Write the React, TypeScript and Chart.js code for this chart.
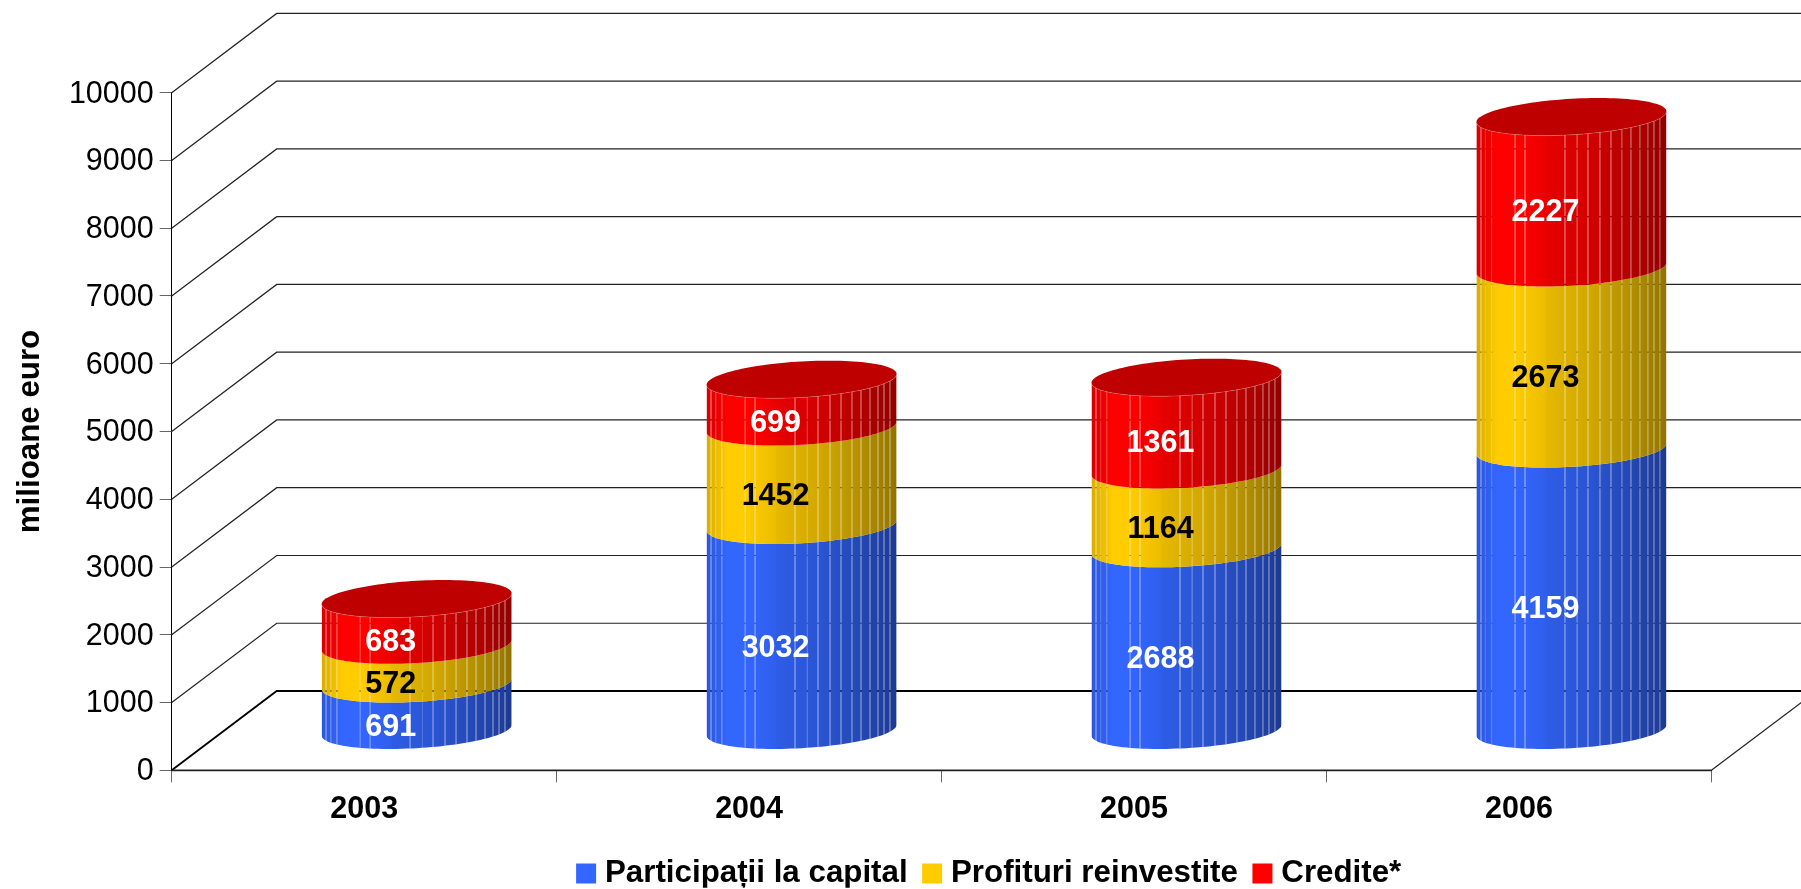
import React, { useEffect, useRef } from "react";
import { Chart, registerables } from "chart.js";

Chart.register(...registerables);

const years = ["2003", "2004", "2005", "2006"];
const participatii = [691, 3032, 2688, 4159];
const profituri = [572, 1452, 1164, 2673];
const credite = [683, 699, 1361, 2227];

const FONT = '"Liberation Sans", Arial, sans-serif';
const DEPTH_X = 105;
const DEPTH_Y = 79.3;
const SKEW = 5.4;
const FRONT = 18;
const SEAMS = [0.021, 0.045, 0.077, 0.201, 0.253, 0.463, 0.528, 0.584, 0.647, 0.705, 0.762, 0.81, 0.857, 0.899, 0.931, 0.962];
const STOPS: [number, number][] = [[0, 0.85], [0.077, 0.95], [0.11, 1], [0.2, 1], [0.36, 0.93], [0.37, 0.9], [0.6, 0.82], [0.8, 0.71], [0.96, 0.6], [1, 0.56]];

const shade = (rgb: number[], f: number) => `rgb(${rgb.map((c) => Math.round(c * f)).join(",")})`;

const cylinderPlugin = {
  id: "cylinders",
  beforeLayout(chart: any) {
    const legend = chart.legend;
    if (legend && !legend.__fixed) {
      const fit = legend.fit.bind(legend);
      legend.fit = () => {
        fit();
        legend.height = 51;
      };
      legend.__fixed = true;
    }
  },
  beforeDatasetsDraw(chart: any) {
    const { ctx, chartArea: a, scales } = chart;
    const y = scales.y;
    const dx = DEPTH_X;
    const dy = DEPTH_Y;
    ctx.save();
    // back wall and floor lines
    y.ticks.forEach((t: any) => {
      const py = y.getPixelForValue(t.value);
      ctx.beginPath();
      ctx.moveTo(a.left, py);
      ctx.lineTo(a.left + dx, py - dy);
      ctx.lineTo(a.right + dx, py - dy);
      ctx.lineWidth = t.value === 0 ? 1.8 : 1.2;
      ctx.strokeStyle = t.value === 0 ? "#000" : "#222";
      ctx.stroke();
    });
    const zero = y.getPixelForValue(0);
    ctx.beginPath();
    ctx.moveTo(a.left, zero);
    ctx.lineTo(a.right, zero);
    ctx.lineWidth = 1.8;
    ctx.strokeStyle = "#222";
    ctx.stroke();
    ctx.beginPath();
    ctx.moveTo(a.right, zero);
    ctx.lineTo(a.right + dx, zero - dy);
    ctx.lineWidth = 1.2;
    ctx.strokeStyle = "#222";
    ctx.stroke();

    // cylinders, bottom series first
    const n = chart.data.datasets.length;
    const rgbs = chart.data.datasets.map((d: any) => d.rgb);
    for (let i = 0; i < n; i++) {
      const meta = chart.getDatasetMeta(i);
      meta.data.forEach((bar: any) => {
        const { x, y: top, base, width } = bar.getProps(["x", "y", "base", "width"], true);
        const cx = x + dx / 2;
        const yT = top - dy / 2;
        const yB = base - dy / 2;
        const R = width / 2;
        const pt = (t: number, cy: number): [number, number] => [
          cx + R * Math.cos(t),
          cy - SKEW * Math.cos(t) + FRONT * Math.sin(t),
        ];
        ctx.save();
        ctx.beginPath();
        for (let s = 0; s <= 60; s++) {
          const p = pt((Math.PI * s) / 60, yB);
          s === 0 ? ctx.moveTo(p[0], p[1]) : ctx.lineTo(p[0], p[1]);
        }
        for (let s = 60; s >= 0; s--) {
          const p = pt((Math.PI * s) / 60, yT);
          ctx.lineTo(p[0], p[1]);
        }
        ctx.closePath();
        ctx.clip();
        const left = cx - R;
        const yTop = yT - 30;
        const span = yB - yT + 60;
        const grad = ctx.createLinearGradient(left, 0, left + width, 0);
        STOPS.forEach(([o, f]) => grad.addColorStop(o, shade(rgbs[i], f)));
        // facets, with translucent seams between them
        const edges = [0, ...SEAMS, 1];
        ctx.fillStyle = grad;
        for (let j = 0; j < edges.length - 1; j++) {
          const x0 = left + edges[j] * width + (j === 0 ? 0 : 1);
          const x1 = left + edges[j + 1] * width;
          ctx.fillRect(x0, yTop, x1 - x0, span);
        }
        ctx.globalAlpha = 0.85;
        SEAMS.forEach((f) => {
          ctx.fillRect(left + f * width, yTop, 1, span);
        });
        ctx.restore();
        if (i === n - 1) {
          ctx.beginPath();
          for (let s = 0; s <= 120; s++) {
            const p = pt((2 * Math.PI * s) / 120, yT);
            s === 0 ? ctx.moveTo(p[0], p[1]) : ctx.lineTo(p[0], p[1]);
          }
          ctx.closePath();
          ctx.fillStyle = shade(rgbs[i], 0.75);
          ctx.fill();
          ctx.beginPath();
          for (let s = 0; s <= 60; s++) {
            const p = pt((Math.PI * s) / 60, yT);
            s === 0 ? ctx.moveTo(p[0], p[1]) : ctx.lineTo(p[0], p[1]);
          }
          ctx.lineWidth = 1;
          ctx.strokeStyle = "rgba(255,255,255,0.18)";
          ctx.stroke();
        }
      });
    }
    // value labels
    ctx.font = `bold 30.5px ${FONT}`;
    ctx.textAlign = "center";
    ctx.textBaseline = "middle";
    for (let i = 0; i < n; i++) {
      const ds = chart.data.datasets[i];
      chart.getDatasetMeta(i).data.forEach((bar: any, k: number) => {
        const { x, y: top, base } = bar.getProps(["x", "y", "base"], true);
        ctx.fillStyle = ds.labelColor;
        ctx.fillText(String(ds.data[k]), x + dx / 2 - 26, (top + base) / 2 - dy / 2 + 20.5);
      });
    }
    ctx.restore();
    return false;
  },
  afterLayout(chart: any) {
    const legend = chart.legend;
    legend.top -= 1.35;
    legend.bottom -= 1.35;
    legend.left += 136.4;
    legend.right += 136.4;
  },
};

export default function App() {
  const ref = useRef<HTMLCanvasElement>(null);
  useEffect(() => {
    const chart = new Chart(ref.current as HTMLCanvasElement, {
      type: "bar",
      data: {
        labels: years,
        datasets: [
          { label: "Participații la capital", data: participatii, backgroundColor: "#3366FF", rgb: [51, 102, 255], labelColor: "#fff" },
          { label: "Profituri reinvestite", data: profituri, backgroundColor: "#FFCC00", rgb: [255, 204, 0], labelColor: "#000" },
          { label: "Credite*", data: credite, backgroundColor: "#FF0000", rgb: [255, 0, 0], labelColor: "#fff" },
        ] as any,
      },
      plugins: [cylinderPlugin],
      options: {
        animation: false,
        responsive: false,
        layout: { padding: { top: 92.7, right: 89.6, left: 0, bottom: 0 } },
        datasets: { bar: { categoryPercentage: 1, barPercentage: 0.4937 } },
        plugins: {
          tooltip: { enabled: false },
          legend: {
            position: "bottom",
            labels: {
              font: { family: FONT, size: 31.3, weight: "bold" },
              color: "#000",
              usePointStyle: true,
              pointStyle: "rect",
              boxWidth: 6.4,
              boxHeight: 20,
              padding: 21.3,
            },
          },
        },
        scales: {
          x: {
            stacked: true,
            afterFit: (s: any) => {
              s.height = 67.7;
            },
            grid: { drawOnChartArea: false, tickLength: 12, color: "#666", offset: true },
            border: { color: "#222" },
            ticks: { color: "#000", font: { family: FONT, size: 30.5, weight: "bold" }, padding: 9, maxRotation: 0 },
          },
          y: {
            stacked: true,
            min: 0,
            max: 10000,
            afterFit: (s: any) => {
              s.width = 171.7;
            },
            title: {
              display: true,
              text: "milioane euro",
              color: "#000",
              font: { family: FONT, size: 31.3, weight: "bold" },
              padding: { top: 12, bottom: 0 },
            },
            grid: { drawOnChartArea: false, tickLength: 12, color: "#666" },
            border: { color: "#000" },
            ticks: {
              stepSize: 1000,
              autoSkip: false,
              color: "#000",
              font: { family: FONT, size: 30.5 },
              padding: 6,
              labelOffset: 1.5,
              callback: (v: any) => String(v),
            },
          },
        },
      } as any,
    });
    return () => chart.destroy();
  }, []);
  return (
    <div style={{ position: "absolute", left: 0, top: 0, width: 1801, height: 889 }}>
      <canvas ref={ref} width={1801} height={889} style={{ display: "block" }} />
    </div>
  );
}
